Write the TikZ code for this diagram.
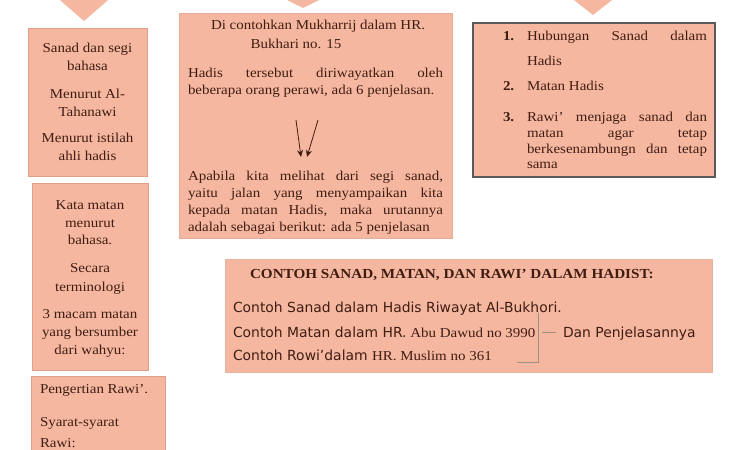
\documentclass[tikz,border=0pt]{standalone}
\usepackage{fontspec}
\setmainfont{Liberation Serif}[FakeStretch=1.1]
\newfontfamily\sansf{DejaVu Sans}
\usetikzlibrary{arrows.meta}
\definecolor{boxfill}{HTML}{F6B7A0}
\definecolor{boxline}{HTML}{DFA088}
\definecolor{darkline}{HTML}{5A5A5A}
\definecolor{txt}{HTML}{3F1D12}
\definecolor{brk}{HTML}{A08E88}
\newcommand{\fsz}{\fontsize{13.6}{16}\selectfont}
\newcommand{\sfz}{\sansf\fontsize{13.9}{16}\selectfont}
\begin{document}
\begin{tikzpicture}[x=1pt,y=-1pt,
  panel/.style={draw=boxline, line width=0.8pt, fill=boxfill, anchor=north west, inner sep=0pt, outer sep=0pt},
  tl/.style={text=txt, inner sep=0pt, outer sep=0pt, font=\fsz, anchor=base},
  tw/.style={tl, anchor=base west},
  sw/.style={tl, anchor=base west, font=\sfz},
  pointer/.style={draw=txt, line width=0.8pt, -{Stealth[length=7pt,width=6pt]}}]
\useasboundingbox (0,0) rectangle (750,450);
\fill[white] (0,0) rectangle (750,450);
% top block arrow heads
\fill[boxfill] (60,0) -- (108,0) -- (84,21) -- cycle;
\fill[boxfill] (287,0) -- (319,0) -- (303,8) -- cycle;
\fill[boxfill] (574,0) -- (612,0) -- (593,15) -- cycle;
% boxes
\node[panel, minimum width=119pt, minimum height=148pt] (L1) at (28,28) {};
\node[panel, minimum width=116pt, minimum height=187pt] (L2) at (32,183) {};
\node[panel, minimum width=134pt, minimum height=80pt] (L3) at (31,376) {};
\node[panel, draw=boxline!85, minimum width=273pt, minimum height=225pt] (C) at (179,13) {};
\node[panel, draw=darkline, line width=1.1pt, minimum width=242pt, minimum height=154pt] (R) at (473,23) {};
\node[panel, draw=boxline!80, minimum width=487pt, minimum height=113pt] (B) at (225,259) {};
% left column 1
\node[tl] (l1a) at (87.5,52) {Sanad dan segi};
\node[tl] (l1b) at (87.5,70) {bahasa};
\node[tl] (l1c) at (87.5,98) {Menurut Al-};
\node[tl] (l1d) at (87.5,116) {Tahanawi};
\node[tl] (l1e) at (87.5,142) {Menurut istilah};
\node[tl] (l1f) at (87.5,160) {ahli hadis};
% left column 2
\node[tl] (l2a) at (90,209) {Kata matan};
\node[tl] (l2b) at (90,227) {menurut};
\node[tl] (l2c) at (90,244) {bahasa.};
\node[tl] (l2d) at (90,272) {Secara};
\node[tl] (l2e) at (90,291) {terminologi};
\node[tl] (l2f) at (90,318) {3 macam matan};
\node[tl] (l2g) at (90,336) {yang bersumber};
\node[tl] (l2h) at (90,354) {dari wahyu:};
% left column 3
\node[tw] (l3a) at (40,393) {Pengertian Rawi’.};
\node[tw] (l3b) at (40,426) {Syarat-syarat};
\node[tw] (l3c) at (40,447) {Rawi:};
% centre box
\node[tl] (c1) at (318,29) {Di contohkan Mukharrij dalam HR.};
\node[tl] (c2) at (296,48) {Bukhari no. 15};
\node[tw] (c3) at (188,77) {\makebox[255pt][s]{Hadis tersebut diriwayatkan oleh}};
\node[tw] (c4) at (188,94) {beberapa orang perawi, ada 6 penjelasan.};
\node[tw] (c5) at (188,180) {\makebox[255pt][s]{Apabila kita melihat dari segi sanad,}};
\node[tw] (c6) at (188,197) {\makebox[255pt][s]{yaitu jalan yang menyampaikan kita}};
\node[tw] (c7) at (188,214) {\makebox[255pt][s]{kepada matan Hadis, maka urutannya}};
\node[tw] (c8) at (188,231) {adalah sebagai berikut: ada 5 penjelasan};
\coordinate (p1s) at (296,120);
\coordinate (p1e) at (301,157);
\coordinate (p2s) at (318,120);
\coordinate (p2e) at (307,157);
\draw[pointer] (p1s) -- (p1e);
\draw[pointer] (p2s) -- (p2e);
% right box
\node[tw, font=\fsz\bfseries] (n1) at (503,40) {1.};
\node[tw] (r1) at (527,40) {\makebox[180pt][s]{Hubungan Sanad dalam}};
\node[tw] (r2) at (527,65) {Hadis};
\node[tw, font=\fsz\bfseries] (n2) at (503,90) {2.};
\node[tw] (r3) at (527,90) {Matan Hadis};
\node[tw, font=\fsz\bfseries] (n3) at (503,121) {3.};
\node[tw] (r4) at (527,121) {\makebox[180pt][s]{Rawi’ menjaga sanad dan}};
\node[tw] (r5) at (527,137) {\makebox[180pt][s]{matan agar tetap}};
\node[tw] (r6) at (527,153) {\makebox[180pt][s]{berkesenambungn dan tetap}};
\node[tw] (r7) at (527,168) {sama};
% bottom box
\node[tw, font=\fontsize{13.8}{16}\selectfont\bfseries] (h) at (250,278) {CONTOH SANAD, MATAN, DAN RAWI’ DALAM HADIST:};
\node[sw] (b1) at (233,312) {Contoh Sanad dalam Hadis Riwayat Al-Bukhori.};
\node[sw] (b2) at (233,337) {Contoh Matan dalam HR.\fsz\rmfamily{} Abu Dawud no 3990};
\node[sw] (b3) at (233,360) {Contoh Rowi’dalam \fsz\rmfamily HR. Muslim no 361};
\node[sw] (b4) at (563,337) {Dan Penjelasannya};
\coordinate (k1) at (538,313);
\coordinate (k2) at (538,362);
\coordinate (k3) at (517,362);
\coordinate (k4) at (542,332);
\coordinate (k5) at (556,332);
\draw[brk, line width=0.6pt] (k3) -- (k2) -- (k1);
\draw[brk, line width=0.6pt] (k4) -- (k5);
\end{tikzpicture}
\end{document}
